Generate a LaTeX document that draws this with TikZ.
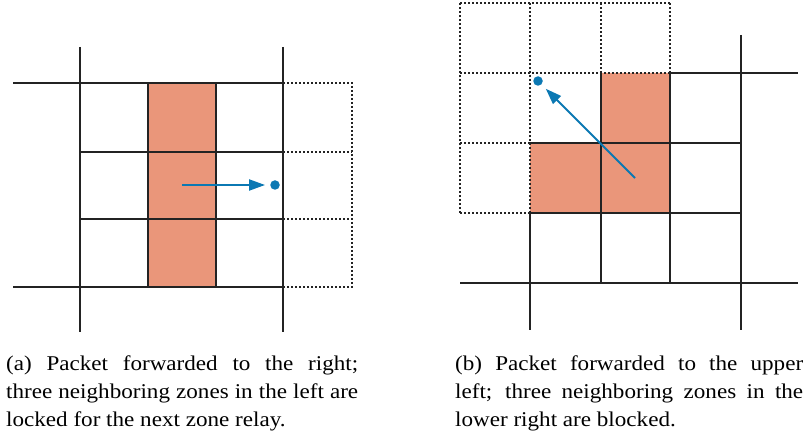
\documentclass[tikz,border=0pt]{standalone}
\usepackage{fontspec}
\setmainfont{Liberation Serif}[FakeStretch=1.1]
\usetikzlibrary{arrows.meta}
\definecolor{zonefill}{HTML}{EA967A}
\definecolor{pktblue}{HTML}{0B78B3}
\definecolor{gridink}{HTML}{232323}
\tikzset{
  grd/.style={gridink,line width=2.2pt},
  lck/.style={gridink,line width=1.9pt,dash pattern=on 2pt off 2pt},
  zone/.style={fill=zonefill},
  pkt/.style={circle,fill=pktblue,inner sep=0pt,minimum size=9.5pt},
  fwd/.style={-{Triangle[length=16pt,width=11pt]},pktblue,line width=2pt,shorten >=5pt},
  capt/.style={anchor=north west,align=justify,inner sep=0pt,font=\fontsize{21}{28}\selectfont,text width=#1},
}
\begin{document}
\begin{tikzpicture}[x=1pt,y=-1pt]
\useasboundingbox (0,0) rectangle (807,441);
% (a) forwarded to the right
\fill[zone] (148,83) rectangle (216,287);
\draw[grd] (13,83) -- (283,83) (80,152) -- (283,152) (80,219) -- (283,219) (13,287) -- (283,287);
\draw[grd] (80,47) -- (80,332) (148,83) -- (148,287) (216,83) -- (216,287) (283,47) -- (283,332);
\draw[lck] (283,83) -- (352,83) -- (352,287) -- (283,287) (283,152) -- (352,152) (283,219) -- (352,219);
\node[pkt] (dsta) at (275,185) {};
\coordinate (srca) at (182,185);
\draw[fwd] (srca) -- (dsta);
\node[capt=352pt] (capa) at (6,356) {(a) Packet forwarded to the right;\linebreak three neighboring zones in the left are\linebreak locked for the next zone relay.};
% (b) forwarded to the upper left
\fill[zone] (601,73) rectangle (670,213) (530,143) rectangle (601,213);
\draw[grd] (530,213) -- (530,330) (601,73) -- (601,283) (670,73) -- (670,283) (741,35) -- (741,330);
\draw[grd] (670,73) -- (798,73) (530,143) -- (741,143) (530,213) -- (741,213) (460,283) -- (798,283);
\draw[lck] (460,3) -- (670,3) (460,73) -- (670,73) (460,143) -- (530,143) (460,213) -- (530,213);
\draw[lck] (460,3) -- (460,213) (530,3) -- (530,213) (601,3) -- (601,73) (670,3) -- (670,73);
\node[pkt] (dstb) at (538,81) {};
\coordinate (srcb) at (635,178);
\draw[fwd,shorten >=6pt] (srcb) -- (dstb);
\node[capt=348pt] (capb) at (455,356) {(b) Packet forwarded to the upper\linebreak left; three neighboring zones in the\linebreak lower right are blocked.};
\end{tikzpicture}
\end{document}
